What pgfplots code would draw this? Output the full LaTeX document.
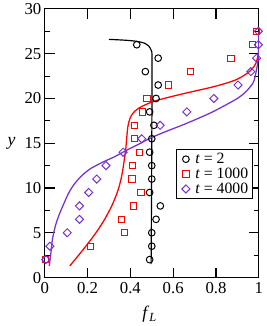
\documentclass[border=0pt]{standalone}
\usepackage{pgfplots}
\pgfplotsset{compat=1.18}
\usepackage{fontspec}
\setmainfont{Liberation Serif}
\definecolor{myred}{RGB}{255,0,0}
\definecolor{mypurple}{RGB}{120,50,205}
\begin{document}
\begin{tikzpicture}
\begin{axis}[
  name=ax,
  scale only axis,
  width=217.5pt, height=273pt,
  xmin=0, xmax=1, ymin=0, ymax=30,
  xtick={0,0.2,0.4,0.6,0.8,1},
  ytick={0,5,10,15,20,25,30},
  minor ytick={2.5,7.5,12.5,17.5,22.5,27.5},
  tick align=inside,
  major tick length=10pt, minor tick length=5pt,
  axis line style={line width=1.1pt},
  every tick/.style={line width=1.1pt, black},
  /pgf/number format/assume math mode=true,
  ticklabel style={font=\fontsize{17}{17}\selectfont},
  xticklabel style={yshift=-1pt},
  xlabel={\textit{f}\textsubscript{\textit{L}}},
  ylabel={\textit{y}},
  label style={font=\fontsize{18}{18}\selectfont},
  xlabel style={at={(axis description cs:0.49,-0.138)}, anchor=center},
  ylabel style={rotate=-90, at={(axis description cs:-0.155,0.50)}, anchor=center},
  legend style={at={(rel axis cs:0.971,0.479)}, anchor=north east, draw=black, line width=0.9pt,
     font=\fontsize{16}{16}\selectfont, inner sep=2.5pt, row sep=0pt,
     nodes={inner sep=1.5pt}},
  legend image code/.code={\path[draw=none,fill=none] (0pt,0pt) (15pt,0pt); \draw[#1, draw opacity=0] (7pt,0pt) -- (7pt,0pt); \path[#1, only marks] plot coordinates {(7pt,0pt)};},
  legend cell align=left,
]
% markers
\addplot[only marks, mark=o, mark size=3.4pt, black, line width=1pt] coordinates {
 (0.49,2) (0.50,3.5) (0.50,5) (0.52,6.5) (0.54,8) (0.49,9.5) (0.50,11) (0.50,12.5)
 (0.49,14) (0.50,15.5) (0.51,17) (0.49,18.5) (0.52,20) (0.53,21.5) (0.47,23) (0.53,24.5) (0.43,26)
};
\addlegendentry{\textit{t} = 2}
\addplot[only marks, mark=square, mark size=3.2pt, myred, line width=1pt] coordinates {
 (0.005,2) (0.215,3.5) (0.373,5) (0.358,6.5) (0.416,8) (0.450,9.5) (0.407,11) (0.411,12.5)
 (0.442,14) (0.419,15.5) (0.419,17) (0.457,18.5) (0.477,20) (0.577,21.5) (0.680,23) (0.870,24.5)
 (0.971,26) (0.989,27.5)
};
\addlegendentry{\textit{t} = 1000}
\addplot[only marks, mark=square, mark options={rotate=45}, mark size=2.9pt, mypurple, line width=1pt] coordinates {
 (0.005,2) (0.024,3.5) (0.105,5) (0.162,6.5) (0.162,8) (0.205,9.5) (0.243,11) (0.286,12.5)
 (0.366,14) (0.453,15.5) (0.539,17) (0.664,18.5) (0.790,20) (0.903,21.5) (0.963,23) (0.990,24.5)
 (0.998,26) (0.998,27.5)
};
\addlegendentry{\textit{t} = 4000}
% lines
\addplot[black, line width=1.2pt, forget plot, smooth, tension=0.4] coordinates {
 (0.30,26.6) (0.38,26.5) (0.43,26.38) (0.465,26.18) (0.486,25.85) (0.497,25.4) (0.501,24.8)
 (0.501,20) (0.499,10) (0.497,1.5)
};
\addplot[myred, line width=1.3pt, forget plot, smooth, tension=0.5] coordinates {
 (0.117,1.3) (0.16,2.55) (0.205,3.9) (0.245,5.2) (0.281,6.55) (0.315,8.1) (0.343,9.8)
 (0.36,11.4) (0.372,13.2) (0.379,14.5) (0.383,15.6) (0.388,16.8) (0.397,17.7) (0.412,18.35)
 (0.435,18.85) (0.47,19.3) (0.52,19.75) (0.59,20.2) (0.687,20.75) (0.77,21.2) (0.84,21.65)
 (0.895,22.1) (0.933,22.6) (0.965,23.2) (0.986,23.9) (0.997,24.9) (1.0,26) (1.0,27.5)
};
\addplot[mypurple, line width=1.3pt, forget plot, smooth, tension=0.5] coordinates {
 (0.021,1.3) (0.028,2.6) (0.036,4.3) (0.05,5.8) (0.067,7.0) (0.09,8.3) (0.113,9.5) (0.14,10.5)
 (0.174,11.4) (0.21,12.1) (0.251,12.65) (0.29,13.1) (0.327,13.5) (0.381,14.2) (0.44,14.9)
 (0.496,15.6) (0.565,16.3) (0.64,17.0) (0.71,17.7) (0.78,18.45) (0.84,19.2) (0.90,20.0)
 (0.933,20.6) (0.96,21.3) (0.978,22.0) (0.994,23.8) (1.0,25.3) (1.0,27)
};
\end{axis}
\path (ax.south west) ++(-45.5pt,-46pt) coordinate (bbl);
\path (ax.north east) ++(7pt,7pt) coordinate (btr);
\path (bbl) rectangle (btr);
\end{tikzpicture}
\end{document}
